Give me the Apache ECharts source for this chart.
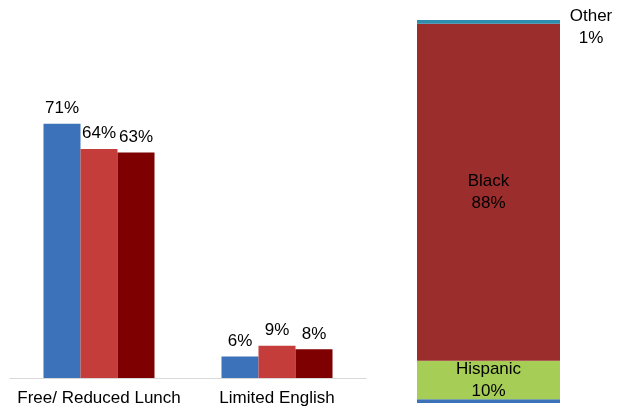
<!DOCTYPE html>
<html>
<head>
<meta charset="utf-8">
<script src="https://cdn.jsdelivr.net/npm/echarts@6/dist/echarts.min.js"></script>
<style>
html,body{margin:0;padding:0;background:#fff;}
#c{width:631px;height:410px;}
</style>
</head>
<body>
<div id="c"></div>
<script>
var categories = ['Free/ Reduced Lunch', 'Limited English'];
var seriesA = [71, 6];
var seriesB = [64, 9];
var seriesC = [63, 8];
var stackNames = ['White', 'Hispanic', 'Black', 'Other'];
var stackValues = [1, 10, 88, 1];
var stackLabels = ['', 'Hispanic\n10%', 'Black\n88%', 'Other\n1%'];
var stackColors = ['#3B72B9', '#A6CD56', '#9B2D2C', '#2F8DAD'];

var chart = echarts.init(document.getElementById('c'));
var font = 'Liberation Sans, Arial, sans-serif';
var fs = 17;
function barSeries(data, color) {
  return {
    type: 'bar', xAxisIndex: 0, yAxisIndex: 0, data: data,
    barWidth: 37, barGap: '0%',
    itemStyle: { color: color },
    label: { show: true, position: 'top', distance: 7, formatter: '{c}%', fontSize: fs, color: '#000', fontFamily: font }
  };
}
var series = [
  barSeries(seriesA, '#3B72B9'),
  barSeries(seriesB, '#C43D3B'),
  barSeries(seriesC, '#7F0000')
];
stackValues.forEach(function (v, i) {
  var lbl = { show: stackLabels[i] !== '', formatter: stackLabels[i], fontSize: fs, color: '#000', fontFamily: font, lineHeight: 22 };
  if (i === 3) {
    lbl.position = 'right'; lbl.distance = 0; lbl.align = 'center'; lbl.offset = [31, 5];
  } else {
    lbl.position = 'inside';
  }
  series.push({
    type: 'bar', name: stackNames[i], xAxisIndex: 1, yAxisIndex: 1, stack: 'total',
    data: [v], barWidth: '100%', itemStyle: { color: stackColors[i] }, label: lbl
  });
});

chart.setOption({
  animation: false,
  grid: [
    { left: 10, top: 20, width: 356, height: 358 },
    { left: 417, top: 20, width: 143, height: 383 }
  ],
  xAxis: [
    { gridIndex: 0, type: 'category', data: categories,
      axisLine: { lineStyle: { color: '#D9D9D9', width: 1 } }, axisTick: { show: false },
      axisLabel: { interval: 0, fontSize: fs, color: '#000', fontFamily: font, margin: 12 } },
    { gridIndex: 1, type: 'category', data: [''], show: false }
  ],
  yAxis: [
    { gridIndex: 0, type: 'value', min: 0, max: 100, show: false, splitLine: { show: false } },
    { gridIndex: 1, type: 'value', min: 0, max: 100, show: false, splitLine: { show: false } }
  ],
  series: series
});
</script>
</body>
</html>
